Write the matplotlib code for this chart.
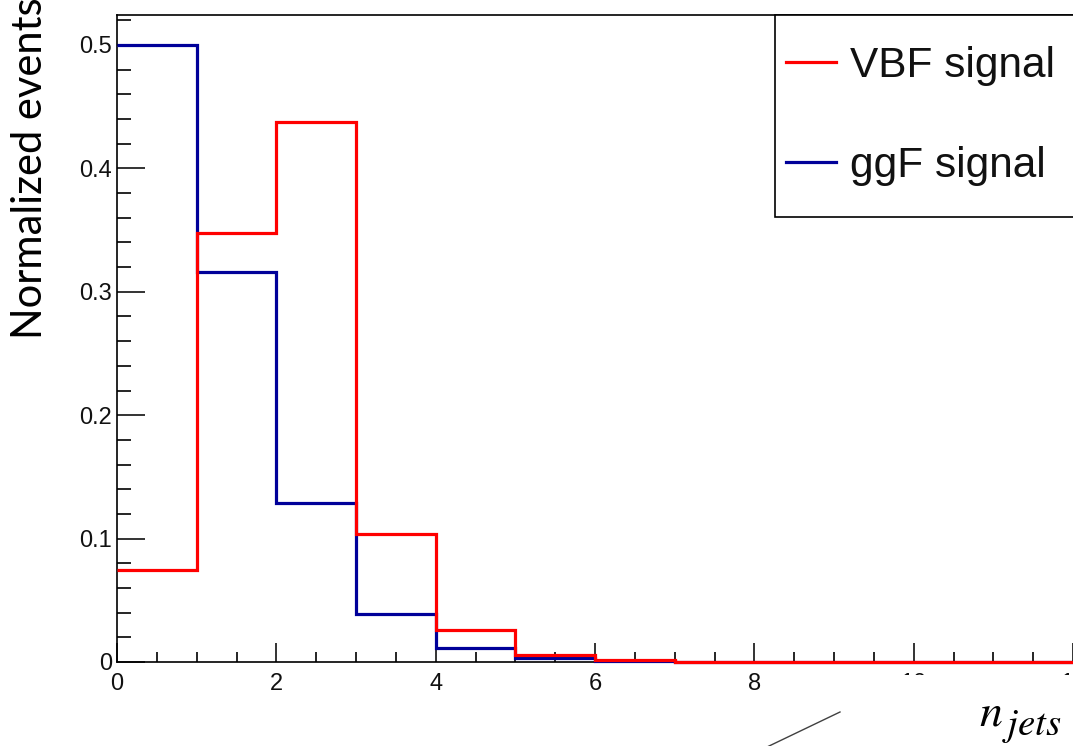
import numpy as np
import matplotlib
matplotlib.use("Agg")
import matplotlib.pyplot as plt
from matplotlib.lines import Line2D
from matplotlib.patches import Rectangle
from matplotlib.ticker import MultipleLocator, FuncFormatter

# histogram contents (normalized), unit-width bins starting at 0
bin_edges = np.arange(0, 16)
vbf_signal = [0.0746, 0.348, 0.4376, 0.1037, 0.026, 0.0057, 0.0016, 0.0004,
              0.0001, 0, 0, 0, 0, 0, 0]
ggf_signal = [0.500, 0.316, 0.129, 0.039, 0.0113, 0.0030, 0.0009, 0.0002,
              0, 0, 0, 0, 0, 0, 0]
legend_labels = ["VBF signal", "ggF signal"]
y_label = "Normalized events"

W, H = 1073, 746
plt.rcParams["mathtext.fontset"] = "stix"
fig = plt.figure(figsize=(W / 100, H / 100), dpi=100)
fig.patch.set_facecolor("white")

def fx(px):
    return px / W

def fy(py):
    return 1 - py / H

px_per_unit = 79.67
x_max = 15
ax = fig.add_axes([fx(117), fy(662), x_max * px_per_unit / W, (662 - 15) / H])

red = "#ff0000"
blue = "#000099"
ax.stairs(ggf_signal, bin_edges, baseline=None, color=blue, lw=2.3,
          zorder=3, clip_on=False)
ax.stairs(vbf_signal, bin_edges, baseline=None, color=red, lw=2.3,
          zorder=4, clip_on=False)

ax.set_xlim(0, x_max)
ax.set_ylim(0, 0.5243)

ax.spines["right"].set_visible(False)
for s in ["left", "bottom", "top"]:
    ax.spines[s].set_linewidth(1.2)

ax.xaxis.set_major_locator(MultipleLocator(2))
ax.xaxis.set_minor_locator(MultipleLocator(0.5))
ax.yaxis.set_major_locator(MultipleLocator(0.1))
ax.yaxis.set_minor_locator(MultipleLocator(0.02))
ax.yaxis.set_major_formatter(FuncFormatter(lambda v, p: "0" if abs(v) < 1e-9 else f"{v:.1f}"))
ax.xaxis.set_major_formatter(FuncFormatter(lambda v, p: f"{v:.0f}"))

tick_font = "Liberation Sans"
ax.tick_params(axis="x", which="major", direction="in", length=13.5, width=1.2,
               labelsize=17, pad=8, colors="#111111")
ax.tick_params(axis="x", which="minor", direction="in", length=7, width=1.2)
ax.tick_params(axis="y", which="major", direction="in", length=20, width=1.2,
               labelsize=17, pad=3.5, colors="#111111")
ax.tick_params(axis="y", which="minor", direction="in", length=10, width=1.2)
for lab in ax.get_xticklabels() + ax.get_yticklabels():
    lab.set_fontfamily(tick_font)

# lower part of the 10 / 12 labels is hidden in the original
fig.add_artist(Rectangle((fx(870), fy(705)), fx(210), (705 - 675) / H,
                         transform=fig.transFigure, facecolor="white",
                         edgecolor="none", zorder=5))

# legend box (runs off the right edge)
fig.add_artist(Rectangle((fx(775), fy(217)), fx(330), (217 - 15) / H,
                         transform=fig.transFigure, facecolor="white",
                         edgecolor="black", lw=1.2, zorder=6))
for label, col, yc in zip(legend_labels, [red, blue], [62, 162]):
    fig.add_artist(Line2D([fx(786), fx(836)], [fy(yc), fy(yc)],
                          transform=fig.transFigure, color=col, lw=2.3, zorder=7))
    fig.text(fx(850), fy(yc), label, fontsize=30.5, family=tick_font,
             va="center_baseline", ha="left", color="#111111", zorder=7)

# axis titles
fig.text(fx(30), fy(168), y_label, rotation=90, fontsize=30, family="Lato",
         va="center", ha="center", color="black")
# x title n_jets, main letter and subscript set separately
fig.text(fx(1003), fy(725), r"$n$", fontsize=33, ha="right", va="baseline",
         color="black", zorder=8)
fig.text(fx(1062), fy(735), r"$jets$", fontsize=28, ha="right", va="baseline",
         color="black", zorder=8)

# stray stroke in the lower part of the original
fig.add_artist(Line2D([fx(767), fx(840)], [fy(747), fy(712)],
                      transform=fig.transFigure, color="#404040", lw=1.0))

fig.savefig("out.png", dpi=100)
